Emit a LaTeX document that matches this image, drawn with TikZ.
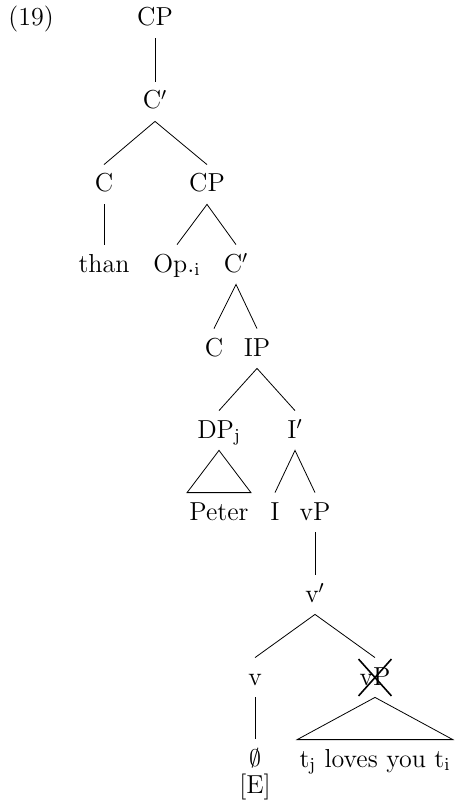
\documentclass[tikz,border=0pt]{standalone}
\usepackage{tikz}

\begin{document}
\begin{tikzpicture}[x=0.5pt,y=-0.5pt,
        every node/.style={font=\fontsize{13}{15.5}\selectfont},
        lbl/.style={anchor=base, inner xsep=1pt, inner ysep=4pt, text height=9.5pt, text depth=2pt}]

                        \useasboundingbox (0,0) rectangle (456,812);

                        % Labels of the tree, level by level
                            \node[anchor=base west, inner sep=0pt] (ex) at (8,26) {(19)};
                            \node[lbl] (cpA) at (155,26) {CP};
                            \node[lbl] (cbarA) at (155,109) {C$'$};
                            \node[lbl] (cA) at (104,192) {C};
                            \node[lbl] (cpB) at (207,192) {CP};
                            \node[lbl] (than) at (104,272) {than};
                            \node[lbl] (op) at (177,272) {Op.$_\mathrm{i}$};
                            \node[lbl] (cbarB) at (236,272) {C$'$};
                            \node[lbl] (cB) at (214,356) {C};
                            \node[lbl] (ip) at (257,356) {IP};
                            \node[lbl] (dp) at (219,438) {DP$_\mathrm{j}$};
                            \node[lbl] (ibar) at (295,438) {I$'$};
                            \node[lbl] (peter) at (219,520) {Peter};
                            \node[lbl] (infl) at (275,520) {I};
                            \node[lbl] (vpA) at (315,520) {vP};
                            \node[lbl] (vbar) at (315,602) {v$'$};
                            \node[lbl] (lv) at (255,685) {v};
                            \node[lbl] (vpB) at (375,685) {vP};
                            \node[lbl] (empty) at (255,766) {$\emptyset$};
                            \node[lbl] (tloves) at (375,767) {t$_\mathrm{j}$ loves you t$_\mathrm{i}$};
                            \node[lbl] (ee) at (255,793) {[E]};

                        % Branches
                            \draw (cpA.south) -- (cbarA.north);
                            \draw (cA.north) -- (cbarA.south) -- (cpB.north);
                            \draw (cA.south) -- (than.north);
                            \draw (op.north) -- (cpB.south) -- (cbarB.north);
                            \draw (cB.north) -- (cbarB.south) -- (ip.north);
                            \draw (dp.north) -- (ip.south) -- (ibar.north);
                            \draw (infl.north) -- (ibar.south) -- (vpA.north);
                            \draw (vpA.south) -- (vbar.north);
                            \draw (lv.north) -- (vbar.south) -- (vpB.north);
                            \draw (lv.south) -- (empty.north);

                        % Triangles
                            \draw (dp.south) -- (peter.north west) -- (peter.north east) -- cycle;
                            \draw (vpB.south) -- (tloves.north west) -- (tloves.north east) -- cycle;

                        % Deleted vP
                            \draw[line width=0.8pt, shorten <=1pt, shorten >=1pt] (vpB.north west) -- (vpB.south east);
                            \draw[line width=0.8pt, shorten <=1pt, shorten >=1pt] (vpB.south west) -- (vpB.north east);

\end{tikzpicture}
\end{document}
